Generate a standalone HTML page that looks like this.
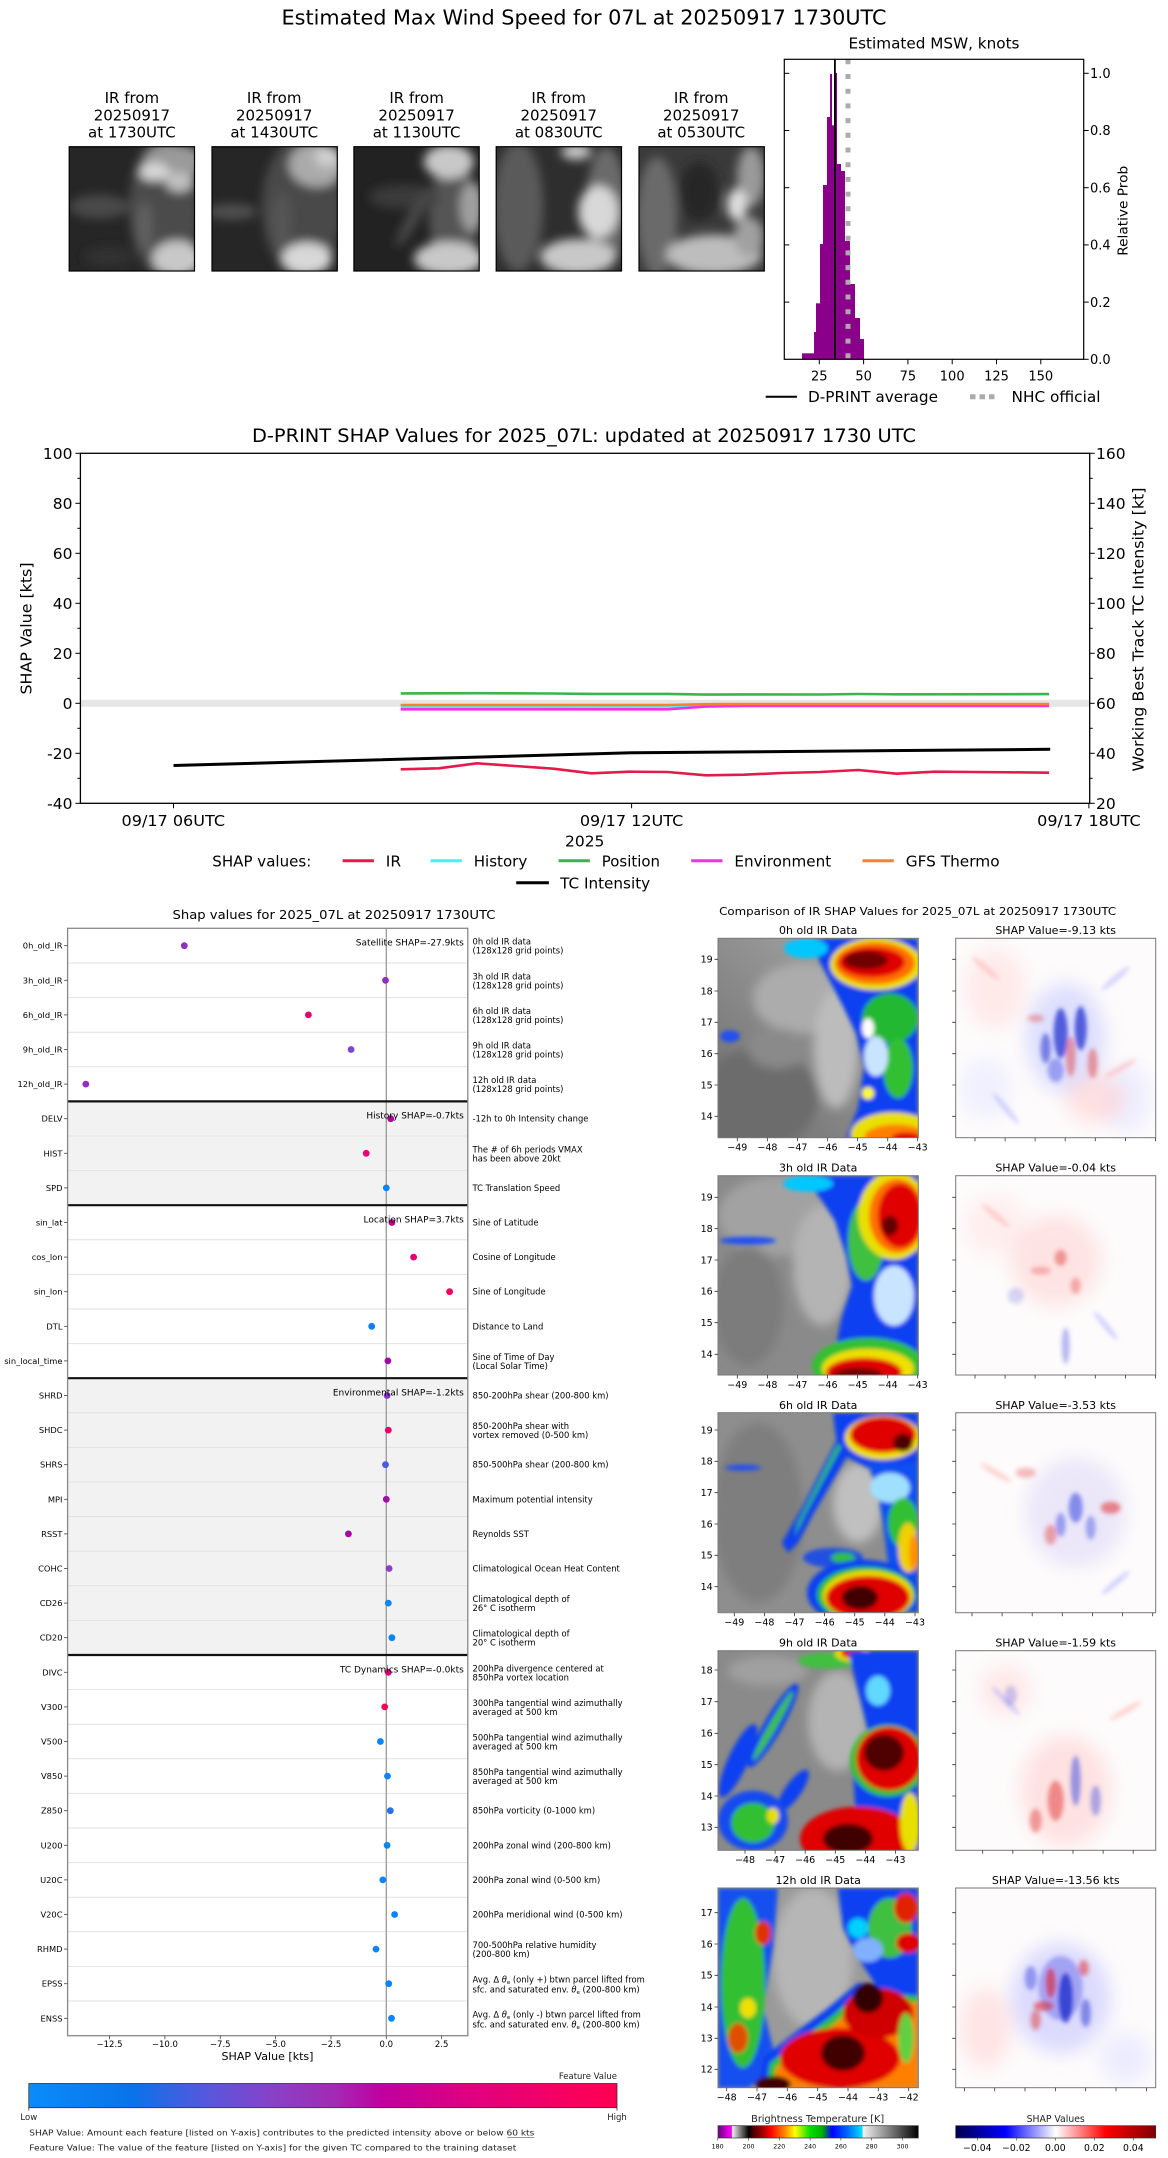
<!DOCTYPE html>
<html><head><meta charset="utf-8">
<style>
html,body{margin:0;padding:0;background:#fff;}
svg{display:block;}
text{font-family:"DejaVu Sans","Liberation Sans",sans-serif;fill:#000;}
.lt{fill:#222;}
</style></head><body>
<svg width="1168" height="2158" viewBox="0 0 1168 2158" xmlns="http://www.w3.org/2000/svg">
<defs>
<filter id="b5" x="-30%" y="-30%" width="160%" height="160%"><feGaussianBlur stdDeviation="5"/></filter>
<filter id="b8" x="-40%" y="-40%" width="180%" height="180%"><feGaussianBlur stdDeviation="9"/></filter>
<filter id="b3" x="-20%" y="-20%" width="140%" height="140%"><feGaussianBlur stdDeviation="3"/></filter>
<filter id="b2" x="-30%" y="-30%" width="160%" height="160%"><feGaussianBlur stdDeviation="2"/></filter>
<clipPath id="ct"><rect x="0" y="0" width="125.3" height="124.3"/></clipPath>
<clipPath id="cp"><rect x="0" y="0" width="200.3" height="199.6"/></clipPath>
<linearGradient id="gcb" x1="0" x2="1" y1="0" y2="0">
<stop offset="0" stop-color="#0a8cfa"/><stop offset="0.18" stop-color="#0a72ea"/><stop offset="0.23" stop-color="#2c66e4"/><stop offset="0.31" stop-color="#5a56db"/><stop offset="0.42" stop-color="#8a40c6"/><stop offset="0.52" stop-color="#a22ab4"/><stop offset="0.6" stop-color="#bf00a0"/><stop offset="0.75" stop-color="#df0080"/><stop offset="0.88" stop-color="#f20066"/><stop offset="1" stop-color="#ff0052"/>
</linearGradient>
<linearGradient id="gbt" x1="0" x2="1" y1="0" y2="0">
<stop offset="0" stop-color="#6a0080"/><stop offset="0.068" stop-color="#ff00ff"/><stop offset="0.072" stop-color="#ffffff"/><stop offset="0.08" stop-color="#d8d8d8"/><stop offset="0.154" stop-color="#000000"/><stop offset="0.17" stop-color="#400000"/><stop offset="0.23" stop-color="#b00000"/><stop offset="0.262" stop-color="#ff0000"/><stop offset="0.33" stop-color="#ff8000"/><stop offset="0.385" stop-color="#ffff00"/><stop offset="0.46" stop-color="#00e000"/><stop offset="0.52" stop-color="#00b000"/><stop offset="0.57" stop-color="#0000ff"/><stop offset="0.64" stop-color="#0060ff"/><stop offset="0.72" stop-color="#00e0ff"/><stop offset="0.723" stop-color="#f4f4f4"/><stop offset="1" stop-color="#000000"/>
</linearGradient>
<linearGradient id="gsei" x1="0" x2="1" y1="0" y2="0">
<stop offset="0" stop-color="#00004d"/><stop offset="0.25" stop-color="#0000ff"/><stop offset="0.5" stop-color="#ffffff"/><stop offset="0.75" stop-color="#ff0000"/><stop offset="1" stop-color="#800000"/>
</linearGradient>
<linearGradient id="gir" x1="1" y1="0" x2="0" y2="1">
<stop offset="0" stop-color="#b0b0b0"/><stop offset="1" stop-color="#6c6c6c"/>
</linearGradient>
</defs>
<rect width="1168" height="2158" fill="#fff"/>

<!-- ================= SECTION 1 ================= -->
<text x="584" y="24.5" font-size="20" text-anchor="middle" textLength="605" lengthAdjust="spacingAndGlyphs">Estimated Max Wind Speed for 07L at 20250917 1730UTC</text>

<g font-size="15" text-anchor="middle">
<text x="131.9" y="103">IR from</text><text x="131.9" y="120.3">20250917</text><text x="131.9" y="137.5">at 1730UTC</text>
<text x="274.2" y="103">IR from</text><text x="274.2" y="120.3">20250917</text><text x="274.2" y="137.5">at 1430UTC</text>
<text x="416.6" y="103">IR from</text><text x="416.6" y="120.3">20250917</text><text x="416.6" y="137.5">at 1130UTC</text>
<text x="558.7" y="103">IR from</text><text x="558.7" y="120.3">20250917</text><text x="558.7" y="137.5">at 0830UTC</text>
<text x="701.2" y="103">IR from</text><text x="701.2" y="120.3">20250917</text><text x="701.2" y="137.5">at 0530UTC</text>
</g>

<!-- thumbnails -->
<g transform="translate(69.2,146.7)"><g clip-path="url(#ct)"><rect width="126" height="125" fill="#262626"/><g filter="url(#b5)">
<ellipse cx="30" cy="60" rx="30" ry="12" fill="#4a4a4a"/><ellipse cx="95" cy="60" rx="35" ry="70" fill="#4c4c4c"/><ellipse cx="105" cy="15" rx="30" ry="18" fill="#9a9a9a"/><ellipse cx="85" cy="25" rx="15" ry="9" fill="#d8d8d8"/><ellipse cx="110" cy="35" rx="14" ry="10" fill="#c0c0c0"/><ellipse cx="108" cy="112" rx="25" ry="18" fill="#c8c8c8"/><ellipse cx="75" cy="80" rx="8" ry="25" fill="#606060"/><ellipse cx="40" cy="110" rx="25" ry="10" fill="#333"/></g></g>
<rect width="125.3" height="124.3" fill="none" stroke="#000" stroke-width="1.2"/></g>
<g transform="translate(212,146.7)"><g clip-path="url(#ct)"><rect width="126" height="125" fill="#262626"/><g filter="url(#b5)">
<ellipse cx="90" cy="60" rx="40" ry="70" fill="#4a4a4a"/><ellipse cx="105" cy="18" rx="28" ry="22" fill="#aaaaaa"/><ellipse cx="115" cy="10" rx="12" ry="10" fill="#d0d0d0"/><ellipse cx="95" cy="112" rx="25" ry="16" fill="#d8d8d8"/><ellipse cx="20" cy="65" rx="25" ry="8" fill="#505050"/><ellipse cx="70" cy="75" rx="10" ry="30" fill="#555555"/></g></g>
<rect width="125.3" height="124.3" fill="none" stroke="#000" stroke-width="1.2"/></g>
<g transform="translate(353.9,146.7)"><g clip-path="url(#ct)"><rect width="126" height="125" fill="#222222"/><g filter="url(#b5)">
<ellipse cx="100" cy="70" rx="25" ry="55" fill="#555555"/><ellipse cx="95" cy="15" rx="25" ry="17" fill="#c8c8c8"/><ellipse cx="118" cy="60" rx="12" ry="25" fill="#a0a0a0"/><ellipse cx="95" cy="112" rx="35" ry="17" fill="#c8c8c8"/><ellipse cx="50" cy="50" rx="35" ry="12" fill="#3a3a3a"/><ellipse cx="60" cy="70" rx="6" ry="35" fill="#4a4a4a" transform="rotate(30 60 70)"/></g></g>
<rect width="125.3" height="124.3" fill="none" stroke="#000" stroke-width="1.2"/></g>
<g transform="translate(496.2,146.7)"><g clip-path="url(#ct)"><rect width="126" height="125" fill="#2e2e2e"/><g filter="url(#b5)">
<ellipse cx="22" cy="60" rx="25" ry="65" fill="#5a5a5a"/><ellipse cx="110" cy="60" rx="20" ry="60" fill="#6a6a6a"/><ellipse cx="80" cy="5" rx="15" ry="8" fill="#c8c8c8"/><ellipse cx="102" cy="65" rx="20" ry="26" fill="#d8d8d8"/><ellipse cx="82" cy="110" rx="38" ry="18" fill="#c8c8c8"/></g></g>
<rect width="125.3" height="124.3" fill="none" stroke="#000" stroke-width="1.2"/></g>
<g transform="translate(639,146.7)"><g clip-path="url(#ct)"><rect width="126" height="125" fill="#3a3a3a"/><g filter="url(#b5)">
<ellipse cx="18" cy="70" rx="20" ry="60" fill="#6a6a6a"/><ellipse cx="60" cy="45" rx="20" ry="30" fill="#262626"/><ellipse cx="112" cy="30" rx="14" ry="30" fill="#9a9a9a"/><ellipse cx="98" cy="58" rx="10" ry="16" fill="#e0e0e0"/><ellipse cx="75" cy="108" rx="48" ry="20" fill="#bdbdbd"/><ellipse cx="110" cy="90" rx="15" ry="20" fill="#a0a0a0"/></g></g>
<rect width="125.3" height="124.3" fill="none" stroke="#000" stroke-width="1.2"/></g>

<!-- histogram -->
<text x="934" y="48.5" font-size="15" text-anchor="middle" textLength="171" lengthAdjust="spacingAndGlyphs">Estimated MSW, knots</text>
<g fill="#8b008b">
<rect x="802" y="353.3" width="12" height="6"/><rect x="814" y="332" width="2" height="27.3"/><rect x="816" y="303.3" width="4" height="56"/><rect x="820" y="244" width="3" height="115.3"/><rect x="823" y="185" width="4" height="174.3"/><rect x="827" y="117" width="3" height="242.3"/><rect x="830" y="74" width="2" height="285.3"/><rect x="832" y="125.3" width="2" height="234"/><rect x="834" y="73" width="3" height="286.3"/><rect x="837" y="164" width="4" height="195.3"/><rect x="841" y="171" width="4" height="188.3"/><rect x="845" y="241" width="5" height="118.3"/><rect x="850" y="284" width="5" height="75.3"/><rect x="855" y="318" width="5" height="41.3"/><rect x="860" y="339" width="4" height="20.3"/>
</g>
<line x1="848" y1="59.3" x2="848" y2="359.3" stroke="#ababab" stroke-width="5" stroke-dasharray="5 9.7"/>
<line x1="834.9" y1="59.3" x2="834.9" y2="359.3" stroke="#000" stroke-width="1.8"/>
<rect x="784.3" y="59.3" width="299.4" height="300" fill="none" stroke="#000" stroke-width="1.2"/>
<g stroke="#000" stroke-width="1">
<line x1="784.3" y1="73.3" x2="789.3" y2="73.3"/><line x1="784.3" y1="130.5" x2="789.3" y2="130.5"/><line x1="784.3" y1="187.7" x2="789.3" y2="187.7"/><line x1="784.3" y1="244.9" x2="789.3" y2="244.9"/><line x1="784.3" y1="302.1" x2="789.3" y2="302.1"/>
<line x1="1083.7" y1="73.3" x2="1088.7" y2="73.3"/><line x1="1083.7" y1="130.5" x2="1088.7" y2="130.5"/><line x1="1083.7" y1="187.7" x2="1088.7" y2="187.7"/><line x1="1083.7" y1="244.9" x2="1088.7" y2="244.9"/><line x1="1083.7" y1="302.1" x2="1088.7" y2="302.1"/><line x1="1083.7" y1="359.3" x2="1088.7" y2="359.3"/>
<line x1="819.3" y1="359.3" x2="819.3" y2="364.3"/><line x1="863.6" y1="359.3" x2="863.6" y2="364.3"/><line x1="907.9" y1="359.3" x2="907.9" y2="364.3"/><line x1="952.2" y1="359.3" x2="952.2" y2="364.3"/><line x1="996.5" y1="359.3" x2="996.5" y2="364.3"/><line x1="1040.8" y1="359.3" x2="1040.8" y2="364.3"/>
</g>
<g font-size="13" text-anchor="middle">
<text x="819.3" y="380.5">25</text><text x="863.6" y="380.5">50</text><text x="907.9" y="380.5">75</text><text x="952.2" y="380.5">100</text><text x="996.5" y="380.5">125</text><text x="1040.8" y="380.5">150</text>
</g>
<g font-size="13">
<text x="1090" y="78">1.0</text><text x="1090" y="135.2">0.8</text><text x="1090" y="192.4">0.6</text><text x="1090" y="249.6">0.4</text><text x="1090" y="306.8">0.2</text><text x="1090" y="364">0.0</text>
</g>
<text transform="translate(1127.5,210.8) rotate(-90)" font-size="13.5" text-anchor="middle" textLength="90" lengthAdjust="spacingAndGlyphs">Relative Prob</text>
<line x1="765.7" y1="396.7" x2="797" y2="396.7" stroke="#000" stroke-width="2"/>
<text x="808" y="402" font-size="15" textLength="130" lengthAdjust="spacingAndGlyphs">D-PRINT average</text>
<line x1="970" y1="396.7" x2="998" y2="396.7" stroke="#ababab" stroke-width="5" stroke-dasharray="5.5 4"/>
<text x="1011.5" y="402" font-size="15" textLength="89" lengthAdjust="spacingAndGlyphs">NHC official</text>

<!-- ================= SECTION 2 ================= -->
<text x="584" y="442" font-size="19" text-anchor="middle" textLength="664" lengthAdjust="spacingAndGlyphs">D-PRINT SHAP Values for 2025_07L: updated at 20250917 1730 UTC</text>
<rect x="80.4" y="699.8" width="1009.3" height="7" fill="#e6e6e6"/>
<g fill="none" stroke-linejoin="round" stroke-width="2.6">
<polyline stroke="#e6194b" points="400.7,769.3 438.8,768.3 477,763.3 515.1,766 553.3,768.7 591.4,773.3 629.5,771.7 667.7,772 705.8,775.3 744,774.7 782.1,773 820.2,772 858.4,770 896.5,773.7 934.7,771.7 972.8,772 1010.9,772.3 1049.1,772.7"/>
<polyline stroke="#46f0f0" points="400.7,706.7 667.7,706.6 705.8,705.6 744,705.3 1049.1,705.1"/>
<polyline stroke="#3cb44b" points="400.7,693.4 477,693.2 553.3,693.5 591.4,693.9 667.7,693.9 705.8,694.6 744,694.4 820.2,694.5 858.4,694 896.5,694.3 1049.1,694.1"/>
<polyline stroke="#f032e6" points="400.7,709.3 667.7,709.3 705.8,706.6 744,706 1049.1,706"/>
<polyline stroke="#f58231" points="400.7,705 667.7,705 705.8,704.2 744,704 1049.1,704"/>
</g>
<polyline fill="none" stroke="#000" stroke-width="3" points="173.5,765.5 631.6,752.8 1050.2,749.3"/>
<rect x="80.4" y="453.3" width="1009.3" height="350" fill="none" stroke="#000" stroke-width="1.3"/>
<g stroke="#000" stroke-width="1">
<line x1="75.4" y1="453.3" x2="80.4" y2="453.3"/><line x1="75.4" y1="503.3" x2="80.4" y2="503.3"/><line x1="75.4" y1="553.3" x2="80.4" y2="553.3"/><line x1="75.4" y1="603.3" x2="80.4" y2="603.3"/><line x1="75.4" y1="653.3" x2="80.4" y2="653.3"/><line x1="75.4" y1="703.3" x2="80.4" y2="703.3"/><line x1="75.4" y1="753.3" x2="80.4" y2="753.3"/><line x1="75.4" y1="803.3" x2="80.4" y2="803.3"/>
<line x1="77.4" y1="478.3" x2="80.4" y2="478.3"/><line x1="77.4" y1="528.3" x2="80.4" y2="528.3"/><line x1="77.4" y1="578.3" x2="80.4" y2="578.3"/><line x1="77.4" y1="628.3" x2="80.4" y2="628.3"/><line x1="77.4" y1="678.3" x2="80.4" y2="678.3"/><line x1="77.4" y1="728.3" x2="80.4" y2="728.3"/><line x1="77.4" y1="778.3" x2="80.4" y2="778.3"/>
<line x1="1089.7" y1="453.3" x2="1094.7" y2="453.3"/><line x1="1089.7" y1="503.3" x2="1094.7" y2="503.3"/><line x1="1089.7" y1="553.3" x2="1094.7" y2="553.3"/><line x1="1089.7" y1="603.3" x2="1094.7" y2="603.3"/><line x1="1089.7" y1="653.3" x2="1094.7" y2="653.3"/><line x1="1089.7" y1="703.3" x2="1094.7" y2="703.3"/><line x1="1089.7" y1="753.3" x2="1094.7" y2="753.3"/><line x1="1089.7" y1="803.3" x2="1094.7" y2="803.3"/>
<line x1="1089.7" y1="478.3" x2="1092.7" y2="478.3"/><line x1="1089.7" y1="528.3" x2="1092.7" y2="528.3"/><line x1="1089.7" y1="578.3" x2="1092.7" y2="578.3"/><line x1="1089.7" y1="628.3" x2="1092.7" y2="628.3"/><line x1="1089.7" y1="678.3" x2="1092.7" y2="678.3"/><line x1="1089.7" y1="728.3" x2="1092.7" y2="728.3"/><line x1="1089.7" y1="778.3" x2="1092.7" y2="778.3"/>
<line x1="173.5" y1="803.3" x2="173.5" y2="808.3"/><line x1="631.6" y1="803.3" x2="631.6" y2="808.3"/><line x1="1088.9" y1="803.3" x2="1088.9" y2="808.3"/>
</g>
<g font-size="15.5" text-anchor="end">
<text x="72.5" y="459">100</text><text x="72.5" y="509">80</text><text x="72.5" y="559">60</text><text x="72.5" y="609">40</text><text x="72.5" y="659">20</text><text x="72.5" y="709">0</text><text x="72.5" y="759">-20</text><text x="72.5" y="809">-40</text>
</g>
<g font-size="15.5">
<text x="1096" y="459">160</text><text x="1096" y="509">140</text><text x="1096" y="559">120</text><text x="1096" y="609">100</text><text x="1096" y="659">80</text><text x="1096" y="709">60</text><text x="1096" y="759">40</text><text x="1096" y="809">20</text>
</g>
<g font-size="15.5" text-anchor="middle">
<text x="173.3" y="826" textLength="103.5" lengthAdjust="spacingAndGlyphs">09/17 06UTC</text>
<text x="631.6" y="826" textLength="103.5" lengthAdjust="spacingAndGlyphs">09/17 12UTC</text>
<text x="1088.9" y="826" textLength="103.5" lengthAdjust="spacingAndGlyphs">09/17 18UTC</text>
<text x="584.7" y="846.5">2025</text>
</g>
<text transform="translate(31.5,628.5) rotate(-90)" font-size="15" text-anchor="middle" textLength="132" lengthAdjust="spacingAndGlyphs">SHAP Value [kts]</text>
<text transform="translate(1143.5,629.5) rotate(-90)" font-size="15.5" text-anchor="middle" textLength="284" lengthAdjust="spacingAndGlyphs">Working Best Track TC Intensity [kt]</text>
<g font-size="15.5">
<text x="212.3" y="866.3" textLength="99" lengthAdjust="spacingAndGlyphs">SHAP values:</text>
<line x1="342.6" y1="860.7" x2="373.9" y2="860.7" stroke="#e6194b" stroke-width="3"/><text x="385.8" y="866.3">IR</text>
<line x1="430.5" y1="860.7" x2="461.8" y2="860.7" stroke="#46f0f0" stroke-width="3"/><text x="473.7" y="866.3" textLength="53.6" lengthAdjust="spacingAndGlyphs">History</text>
<line x1="558.6" y1="860.7" x2="589.9" y2="860.7" stroke="#3cb44b" stroke-width="3"/><text x="601.8" y="866.3" textLength="58.2" lengthAdjust="spacingAndGlyphs">Position</text>
<line x1="691.2" y1="860.7" x2="722.5" y2="860.7" stroke="#f032e6" stroke-width="3"/><text x="734.4" y="866.3" textLength="96.8" lengthAdjust="spacingAndGlyphs">Environment</text>
<line x1="862.5" y1="860.7" x2="893.8" y2="860.7" stroke="#f58231" stroke-width="3"/><text x="905.7" y="866.3" textLength="93.9" lengthAdjust="spacingAndGlyphs">GFS Thermo</text>
<line x1="516.2" y1="882.7" x2="548.9" y2="882.7" stroke="#000" stroke-width="3"/><text x="560.1" y="888.3" textLength="90.1" lengthAdjust="spacingAndGlyphs">TC Intensity</text>
</g>

<!-- ================= SECTION 3: left SHAP panel ================= -->
<text x="334" y="919" font-size="12" text-anchor="middle" textLength="323" lengthAdjust="spacingAndGlyphs">Shap values for 2025_07L at 20250917 1730UTC</text>
<rect x="67.6" y="1101.4" width="400.2" height="103.8" fill="#f2f2f2"/>
<rect x="67.6" y="1378.2" width="400.2" height="276.8" fill="#f2f2f2"/>
<g stroke="#e2e2e2" stroke-width="1">
<line x1="67.6" x2="467.8" y1="963" y2="963"/><line x1="67.6" x2="467.8" y1="997.6" y2="997.6"/><line x1="67.6" x2="467.8" y1="1032.2" y2="1032.2"/><line x1="67.6" x2="467.8" y1="1066.8" y2="1066.8"/><line x1="67.6" x2="467.8" y1="1136" y2="1136"/><line x1="67.6" x2="467.8" y1="1170.6" y2="1170.6"/><line x1="67.6" x2="467.8" y1="1239.8" y2="1239.8"/><line x1="67.6" x2="467.8" y1="1274.4" y2="1274.4"/><line x1="67.6" x2="467.8" y1="1309" y2="1309"/><line x1="67.6" x2="467.8" y1="1343.6" y2="1343.6"/><line x1="67.6" x2="467.8" y1="1412.8" y2="1412.8"/><line x1="67.6" x2="467.8" y1="1447.4" y2="1447.4"/><line x1="67.6" x2="467.8" y1="1482" y2="1482"/><line x1="67.6" x2="467.8" y1="1516.6" y2="1516.6"/><line x1="67.6" x2="467.8" y1="1551.2" y2="1551.2"/><line x1="67.6" x2="467.8" y1="1585.8" y2="1585.8"/><line x1="67.6" x2="467.8" y1="1620.4" y2="1620.4"/><line x1="67.6" x2="467.8" y1="1689.6" y2="1689.6"/><line x1="67.6" x2="467.8" y1="1724.2" y2="1724.2"/><line x1="67.6" x2="467.8" y1="1758.8" y2="1758.8"/><line x1="67.6" x2="467.8" y1="1793.4" y2="1793.4"/><line x1="67.6" x2="467.8" y1="1828" y2="1828"/><line x1="67.6" x2="467.8" y1="1862.6" y2="1862.6"/><line x1="67.6" x2="467.8" y1="1897.2" y2="1897.2"/><line x1="67.6" x2="467.8" y1="1931.8" y2="1931.8"/><line x1="67.6" x2="467.8" y1="1966.4" y2="1966.4"/><line x1="67.6" x2="467.8" y1="2001" y2="2001"/>
</g>
<line x1="386.3" y1="928.3" x2="386.3" y2="2035.7" stroke="#999" stroke-width="1.3"/>
<g stroke="#111" stroke-width="2.2">
<line x1="67.6" x2="467.8" y1="1101.4" y2="1101.4"/><line x1="67.6" x2="467.8" y1="1205.2" y2="1205.2"/><line x1="67.6" x2="467.8" y1="1378.2" y2="1378.2"/><line x1="67.6" x2="467.8" y1="1655" y2="1655"/>
</g>
<rect x="67.6" y="928.3" width="400.2" height="1107.4" fill="none" stroke="#888" stroke-width="1.3"/>
<!-- dots -->
<g>
<circle cx="184.3" cy="945.7" r="3.4" fill="#8e2fc4"/>
<circle cx="385.5" cy="980.3" r="3.4" fill="#9030c0"/>
<circle cx="308.4" cy="1014.9" r="3.4" fill="#e8006e"/>
<circle cx="351.1" cy="1049.5" r="3.4" fill="#7a45d2"/>
<circle cx="85.8" cy="1084.1" r="3.4" fill="#9030c0"/>
<circle cx="390.7" cy="1118.7" r="3.4" fill="#b0089f"/>
<circle cx="366.2" cy="1153.3" r="3.4" fill="#ea0072"/>
<circle cx="386.3" cy="1187.9" r="3.4" fill="#0a84f8"/>
<circle cx="391.9" cy="1222.5" r="3.4" fill="#c0008e"/>
<circle cx="413.6" cy="1257.1" r="3.4" fill="#de0079"/>
<circle cx="449.6" cy="1291.7" r="3.4" fill="#f2005f"/>
<circle cx="371.7" cy="1326.3" r="3.4" fill="#0a80f8"/>
<circle cx="387.9" cy="1360.9" r="3.4" fill="#a009a8"/>
<circle cx="387.1" cy="1395.5" r="3.4" fill="#8434cc"/>
<circle cx="388.3" cy="1430.1" r="3.4" fill="#ee006c"/>
<circle cx="385.5" cy="1464.7" r="3.4" fill="#4a5ce0"/>
<circle cx="386.3" cy="1499.3" r="3.4" fill="#a010a8"/>
<circle cx="348.4" cy="1533.9" r="3.4" fill="#a3069f"/>
<circle cx="389.1" cy="1568.5" r="3.4" fill="#8a3ecc"/>
<circle cx="388.3" cy="1603.1" r="3.4" fill="#0a84f8"/>
<circle cx="391.9" cy="1637.7" r="3.4" fill="#0a84f8"/>
<circle cx="388.3" cy="1672.3" r="3.4" fill="#e0007a"/>
<circle cx="384.7" cy="1706.9" r="3.4" fill="#ff0054"/>
<circle cx="380.4" cy="1741.5" r="3.4" fill="#0a84f8"/>
<circle cx="387.5" cy="1776.1" r="3.4" fill="#0a84f8"/>
<circle cx="390.3" cy="1810.7" r="3.4" fill="#2870ec"/>
<circle cx="387.1" cy="1845.3" r="3.4" fill="#0a84f8"/>
<circle cx="382.8" cy="1879.9" r="3.4" fill="#0a84f8"/>
<circle cx="394.6" cy="1914.5" r="3.4" fill="#0a84f8"/>
<circle cx="376" cy="1949.1" r="3.4" fill="#0a84f8"/>
<circle cx="388.7" cy="1983.7" r="3.4" fill="#0a84f8"/>
<circle cx="391.5" cy="2018.3" r="3.4" fill="#0a84f8"/>
</g>
<!-- group annotations -->
<g font-size="9" text-anchor="end" class="lt">
<text x="463.8" y="945.7">Satellite SHAP=-27.9kts</text>
<text x="463.8" y="1118.7">History SHAP=-0.7kts</text>
<text x="463.8" y="1222.5">Location SHAP=3.7kts</text>
<text x="463.8" y="1395.5">Environmental SHAP=-1.2kts</text>
<text x="463.8" y="1672.3">TC Dynamics SHAP=-0.0kts</text>
</g>
<!-- y tick marks -->
<g stroke="#444" stroke-width="0.8">
<line x1="64" x2="67.6" y1="945.7" y2="945.7"/><line x1="64" x2="67.6" y1="980.3" y2="980.3"/><line x1="64" x2="67.6" y1="1014.9" y2="1014.9"/><line x1="64" x2="67.6" y1="1049.5" y2="1049.5"/><line x1="64" x2="67.6" y1="1084.1" y2="1084.1"/><line x1="64" x2="67.6" y1="1118.7" y2="1118.7"/><line x1="64" x2="67.6" y1="1153.3" y2="1153.3"/><line x1="64" x2="67.6" y1="1187.9" y2="1187.9"/><line x1="64" x2="67.6" y1="1222.5" y2="1222.5"/><line x1="64" x2="67.6" y1="1257.1" y2="1257.1"/><line x1="64" x2="67.6" y1="1291.7" y2="1291.7"/><line x1="64" x2="67.6" y1="1326.3" y2="1326.3"/><line x1="64" x2="67.6" y1="1360.9" y2="1360.9"/><line x1="64" x2="67.6" y1="1395.5" y2="1395.5"/><line x1="64" x2="67.6" y1="1430.1" y2="1430.1"/><line x1="64" x2="67.6" y1="1464.7" y2="1464.7"/><line x1="64" x2="67.6" y1="1499.3" y2="1499.3"/><line x1="64" x2="67.6" y1="1533.9" y2="1533.9"/><line x1="64" x2="67.6" y1="1568.5" y2="1568.5"/><line x1="64" x2="67.6" y1="1603.1" y2="1603.1"/><line x1="64" x2="67.6" y1="1637.7" y2="1637.7"/><line x1="64" x2="67.6" y1="1672.3" y2="1672.3"/><line x1="64" x2="67.6" y1="1706.9" y2="1706.9"/><line x1="64" x2="67.6" y1="1741.5" y2="1741.5"/><line x1="64" x2="67.6" y1="1776.1" y2="1776.1"/><line x1="64" x2="67.6" y1="1810.7" y2="1810.7"/><line x1="64" x2="67.6" y1="1845.3" y2="1845.3"/><line x1="64" x2="67.6" y1="1879.9" y2="1879.9"/><line x1="64" x2="67.6" y1="1914.5" y2="1914.5"/><line x1="64" x2="67.6" y1="1949.1" y2="1949.1"/><line x1="64" x2="67.6" y1="1983.7" y2="1983.7"/><line x1="64" x2="67.6" y1="2018.3" y2="2018.3"/>
</g>
<g font-size="8.3" text-anchor="end" class="lt">
<text x="62.5" y="948.7">0h_old_IR</text><text x="62.5" y="983.3">3h_old_IR</text><text x="62.5" y="1017.9">6h_old_IR</text><text x="62.5" y="1052.5">9h_old_IR</text><text x="62.5" y="1087.1">12h_old_IR</text>
<text x="62.5" y="1121.7">DELV</text><text x="62.5" y="1156.3">HIST</text><text x="62.5" y="1190.9">SPD</text>
<text x="62.5" y="1225.5">sin_lat</text><text x="62.5" y="1260.1">cos_lon</text><text x="62.5" y="1294.7">sin_lon</text><text x="62.5" y="1329.3">DTL</text><text x="62.5" y="1363.9">sin_local_time</text>
<text x="62.5" y="1398.5">SHRD</text><text x="62.5" y="1433.1">SHDC</text><text x="62.5" y="1467.7">SHRS</text><text x="62.5" y="1502.3">MPI</text><text x="62.5" y="1536.9">RSST</text><text x="62.5" y="1571.5">COHC</text><text x="62.5" y="1606.1">CD26</text><text x="62.5" y="1640.7">CD20</text>
<text x="62.5" y="1675.3">DIVC</text><text x="62.5" y="1709.9">V300</text><text x="62.5" y="1744.5">V500</text><text x="62.5" y="1779.1">V850</text><text x="62.5" y="1813.7">Z850</text><text x="62.5" y="1848.3">U200</text><text x="62.5" y="1882.9">U20C</text><text x="62.5" y="1917.5">V20C</text><text x="62.5" y="1952.1">RHMD</text><text x="62.5" y="1986.7">EPSS</text><text x="62.5" y="2021.3">ENSS</text>
</g>
<!-- right descriptions -->
<g font-size="8.4" class="lt">
<text x="472.5" y="944.7">0h old IR data</text><text x="472.5" y="953.7">(128x128 grid points)</text>
<text x="472.5" y="979.3">3h old IR data</text><text x="472.5" y="988.3">(128x128 grid points)</text>
<text x="472.5" y="1013.9">6h old IR data</text><text x="472.5" y="1022.9">(128x128 grid points)</text>
<text x="472.5" y="1048.5">9h old IR data</text><text x="472.5" y="1057.5">(128x128 grid points)</text>
<text x="472.5" y="1083.1">12h old IR data</text><text x="472.5" y="1092.1">(128x128 grid points)</text>
<text x="472.5" y="1121.7">-12h to 0h Intensity change</text>
<text x="472.5" y="1152.3">The # of 6h periods VMAX</text><text x="472.5" y="1161.3">has been above 20kt</text>
<text x="472.5" y="1190.9">TC Translation Speed</text>
<text x="472.5" y="1225.5">Sine of Latitude</text>
<text x="472.5" y="1260.1">Cosine of Longitude</text>
<text x="472.5" y="1294.7">Sine of Longitude</text>
<text x="472.5" y="1329.3">Distance to Land</text>
<text x="472.5" y="1359.9">Sine of Time of Day</text><text x="472.5" y="1368.9">(Local Solar Time)</text>
<text x="472.5" y="1398.5">850-200hPa shear (200-800 km)</text>
<text x="472.5" y="1429.1">850-200hPa shear with</text><text x="472.5" y="1438.1">vortex removed (0-500 km)</text>
<text x="472.5" y="1467.7">850-500hPa shear (200-800 km)</text>
<text x="472.5" y="1502.3">Maximum potential intensity</text>
<text x="472.5" y="1536.9">Reynolds SST</text>
<text x="472.5" y="1571.5">Climatological Ocean Heat Content</text>
<text x="472.5" y="1602.1">Climatological depth of</text><text x="472.5" y="1611.1">26° C isotherm</text>
<text x="472.5" y="1636.7">Climatological depth of</text><text x="472.5" y="1645.7">20° C isotherm</text>
<text x="472.5" y="1671.3">200hPa divergence centered at</text><text x="472.5" y="1680.3">850hPa vortex location</text>
<text x="472.5" y="1705.9">300hPa tangential wind azimuthally</text><text x="472.5" y="1714.9">averaged at 500 km</text>
<text x="472.5" y="1740.5">500hPa tangential wind azimuthally</text><text x="472.5" y="1749.5">averaged at 500 km</text>
<text x="472.5" y="1775.1">850hPa tangential wind azimuthally</text><text x="472.5" y="1784.1">averaged at 500 km</text>
<text x="472.5" y="1813.7">850hPa vorticity (0-1000 km)</text>
<text x="472.5" y="1848.3">200hPa zonal wind (200-800 km)</text>
<text x="472.5" y="1882.9">200hPa zonal wind (0-500 km)</text>
<text x="472.5" y="1917.5">200hPa meridional wind (0-500 km)</text>
<text x="472.5" y="1948.1">700-500hPa relative humidity</text><text x="472.5" y="1957.1">(200-800 km)</text>
<text x="472.5" y="1982.7">Avg. Δ <tspan font-style="italic">θ</tspan><tspan font-size="5.5" dy="1.5">e</tspan><tspan dy="-1.5"> (only +) btwn parcel lifted from</tspan></text>
<text x="472.5" y="1992.7">sfc. and saturated env. <tspan font-style="italic">θ</tspan><tspan font-size="5.5" dy="1.5">e</tspan><tspan dy="-1.5"> (200-800 km)</tspan></text>
<text x="472.5" y="2017.3">Avg. Δ <tspan font-style="italic">θ</tspan><tspan font-size="5.5" dy="1.5">e</tspan><tspan dy="-1.5"> (only -) btwn parcel lifted from</tspan></text>
<text x="472.5" y="2027.3">sfc. and saturated env. <tspan font-style="italic">θ</tspan><tspan font-size="5.5" dy="1.5">e</tspan><tspan dy="-1.5"> (200-800 km)</tspan></text>
</g>
<!-- x axis -->
<g stroke="#444" stroke-width="0.8">
<line x1="109.55" x2="109.55" y1="2035.7" y2="2039.2"/><line x1="164.9" x2="164.9" y1="2035.7" y2="2039.2"/><line x1="220.25" x2="220.25" y1="2035.7" y2="2039.2"/><line x1="275.6" x2="275.6" y1="2035.7" y2="2039.2"/><line x1="330.95" x2="330.95" y1="2035.7" y2="2039.2"/><line x1="386.3" x2="386.3" y1="2035.7" y2="2039.2"/><line x1="441.65" x2="441.65" y1="2035.7" y2="2039.2"/>
</g>
<g font-size="8.5" text-anchor="middle" class="lt">
<text x="109.55" y="2047">−12.5</text><text x="164.9" y="2047">−10.0</text><text x="220.25" y="2047">−7.5</text><text x="275.6" y="2047">−5.0</text><text x="330.95" y="2047">−2.5</text><text x="386.3" y="2047">0.0</text><text x="441.65" y="2047">2.5</text>
</g>
<text x="267.5" y="2060" font-size="10.5" text-anchor="middle" textLength="92" lengthAdjust="spacingAndGlyphs">SHAP Value [kts]</text>
<!-- colorbar -->
<text x="617" y="2079" font-size="8.5" text-anchor="end" class="lt">Feature Value</text>
<rect x="28.8" y="2083.5" width="588.2" height="24.2" fill="url(#gcb)" stroke="#333" stroke-width="0.8"/>
<line x1="28.8" x2="28.8" y1="2107.7" y2="2110.5" stroke="#333" stroke-width="0.8"/>
<line x1="617" x2="617" y1="2107.7" y2="2110.5" stroke="#333" stroke-width="0.8"/>
<text x="28.8" y="2120" font-size="8.5" text-anchor="middle" class="lt">Low</text>
<text x="617" y="2120" font-size="8.5" text-anchor="middle" class="lt">High</text>
<text x="29.3" y="2135.5" font-size="8.3" textLength="505" lengthAdjust="spacingAndGlyphs" class="lt">SHAP Value: Amount each feature [listed on Y-axis] contributes to the predicted intensity above or below 60 kts</text>
<line x1="507.5" x2="534.3" y1="2137.5" y2="2137.5" stroke="#333" stroke-width="0.6"/>
<text x="29.3" y="2150.5" font-size="8.3" textLength="487" lengthAdjust="spacingAndGlyphs" class="lt">Feature Value: The value of the feature [listed on Y-axis] for the given TC compared to the training dataset</text>

<!-- ================= SECTION 4: right IR panels ================= -->
<text x="917.7" y="915" font-size="11" text-anchor="middle" textLength="397" lengthAdjust="spacingAndGlyphs">Comparison of IR SHAP Values for 2025_07L at 20250917 1730UTC</text>
<g font-size="11" text-anchor="middle">
<text x="818.2" y="934">0h old IR Data</text><text x="1055.7" y="934">SHAP Value=-9.13 kts</text>
<text x="818.2" y="1171.5">3h old IR Data</text><text x="1055.7" y="1171.5">SHAP Value=-0.04 kts</text>
<text x="818.2" y="1409">6h old IR Data</text><text x="1055.7" y="1409">SHAP Value=-3.53 kts</text>
<text x="818.2" y="1646.5">9h old IR Data</text><text x="1055.7" y="1646.5">SHAP Value=-1.59 kts</text>
<text x="818.2" y="1884">12h old IR Data</text><text x="1055.7" y="1884">SHAP Value=-13.56 kts</text>
</g>

<!-- IR panel 0 -->
<g transform="translate(718,938.3)"><g clip-path="url(#cp)">
<rect width="201" height="200" fill="url(#gir)"/>
<g filter="url(#b5)">
<ellipse cx="85" cy="60" rx="50" ry="35" fill="#acacac"/><ellipse cx="118" cy="110" rx="22" ry="60" fill="#bcbcbc"/><ellipse cx="40" cy="160" rx="60" ry="50" fill="#6c6c6c"/><ellipse cx="60" cy="110" rx="30" ry="20" fill="#8a8a8a"/>
</g>
<g filter="url(#b2)">
<ellipse cx="12" cy="98" rx="10" ry="6" fill="#2050f0"/>
<polygon points="95,0 200,0 200,200 128,200 140,170 146,130 138,95 126,70 113,45 100,20" fill="#1040f0"/>
<ellipse cx="88" cy="10" rx="22" ry="10" fill="#00c8ff"/>
<ellipse cx="172" cy="80" rx="28" ry="25" fill="#20b830"/><ellipse cx="180" cy="130" rx="15" ry="30" fill="#30c030"/>
<ellipse cx="158" cy="118" rx="12" ry="20" fill="#c8e4ff"/><ellipse cx="150" cy="90" rx="6" ry="10" fill="#ffffff"/>
<ellipse cx="158" cy="26" rx="46" ry="26" fill="#e8e000"/><ellipse cx="157" cy="25" rx="40" ry="21" fill="#ff7000"/><ellipse cx="154" cy="24" rx="33" ry="15" fill="#e00000"/><ellipse cx="148" cy="22" rx="22" ry="9" fill="#700000"/>
<ellipse cx="175" cy="196" rx="42" ry="22" fill="#e8e000"/><ellipse cx="178" cy="199" rx="32" ry="13" fill="#ff8000"/><ellipse cx="188" cy="200" rx="15" ry="6" fill="#e00000"/>
<ellipse cx="150" cy="155" rx="6" ry="6" fill="#ffff00"/>
</g></g>
<rect width="200.3" height="199.4" fill="none" stroke="#777" stroke-width="1"/></g>

<!-- IR panel 1 -->
<g transform="translate(718,1175.7)"><g clip-path="url(#cp)">
<rect width="201" height="200" fill="#8a8a8a"/>
<g filter="url(#b5)">
<ellipse cx="60" cy="40" rx="60" ry="40" fill="#a2a2a2"/><ellipse cx="105" cy="90" rx="30" ry="60" fill="#b4b4b4"/><ellipse cx="30" cy="130" rx="35" ry="60" fill="#7c7c7c"/>
</g>
<g filter="url(#b2)">
<ellipse cx="30" cy="65" rx="28" ry="4" fill="#2050f0"/>
<polygon points="85,0 200,0 200,200 108,200 118,170 124,140 134,110 128,80 117,45 104,25" fill="#1040f0"/>
<ellipse cx="90" cy="8" rx="25" ry="8" fill="#00c8ff"/>
<ellipse cx="148" cy="65" rx="18" ry="40" fill="#40c040"/>
<ellipse cx="176" cy="120" rx="20" ry="30" fill="#c8e4ff"/>
<ellipse cx="176" cy="40" rx="36" ry="44" fill="#e8e000"/><ellipse cx="179" cy="40" rx="28" ry="37" fill="#ff7000"/><ellipse cx="182" cy="40" rx="22" ry="32" fill="#e00000"/><ellipse cx="172" cy="50" rx="8" ry="10" fill="#600000"/>
<ellipse cx="150" cy="190" rx="56" ry="28" fill="#30c030"/><ellipse cx="150" cy="193" rx="46" ry="20" fill="#f0e000"/><ellipse cx="146" cy="197" rx="38" ry="15" fill="#e00000"/><ellipse cx="140" cy="200" rx="25" ry="8" fill="#700000"/>
</g></g>
<rect width="200.3" height="199.3" fill="none" stroke="#777" stroke-width="1"/></g>

<!-- IR panel 2 -->
<g transform="translate(718,1412.7)"><g clip-path="url(#cp)">
<rect width="201" height="200" fill="#8e8e8e"/>
<g filter="url(#b5)">
<ellipse cx="40" cy="100" rx="45" ry="90" fill="#7e7e7e"/><ellipse cx="140" cy="90" rx="25" ry="40" fill="#c0c0c0"/>
</g>
<g filter="url(#b2)">
<ellipse cx="25" cy="55" rx="18" ry="3" fill="#2050f0"/>
<polygon points="130,15 140,25 96,100 80,130 70,140 64,130 84,95 120,25" fill="#1040f0"/>
<polygon points="128,25 88,100 76,125 80,110 118,35" fill="#30c030"/>
<polygon points="115,0 200,0 200,70 160,60 130,45 118,25" fill="#1040f0"/>
<polygon points="150,50 200,50 200,200 160,200 170,150 165,110 160,80" fill="#1050f0"/>
<ellipse cx="172" cy="75" rx="20" ry="15" fill="#a0e0ff"/><ellipse cx="185" cy="110" rx="15" ry="25" fill="#30c030"/><ellipse cx="190" cy="135" rx="10" ry="25" fill="#f0d000"/><ellipse cx="196" cy="140" rx="5" ry="18" fill="#ff9000"/>
<ellipse cx="165" cy="25" rx="38" ry="22" fill="#f0e000"/><ellipse cx="165" cy="22" rx="33" ry="18" fill="#e00000"/><ellipse cx="185" cy="30" rx="10" ry="9" fill="#500000"/>
<ellipse cx="115" cy="145" rx="30" ry="10" fill="#2050e0"/><ellipse cx="125" cy="145" rx="12" ry="5" fill="#30c030"/>
<ellipse cx="145" cy="180" rx="56" ry="33" fill="#1040f0"/><ellipse cx="148" cy="182" rx="49" ry="28" fill="#20c020"/><ellipse cx="150" cy="183" rx="45" ry="25" fill="#f0e000"/><ellipse cx="150" cy="185" rx="42" ry="22" fill="#e00000"/><ellipse cx="142" cy="185" rx="18" ry="12" fill="#400000"/>
</g></g>
<rect width="200.3" height="200" fill="none" stroke="#777" stroke-width="1"/></g>

<!-- IR panel 3 -->
<g transform="translate(718,1650.7)"><g clip-path="url(#cp)">
<rect width="201" height="200" fill="#8a8a8a"/>
<g filter="url(#b5)">
<ellipse cx="120" cy="70" rx="30" ry="50" fill="#b4b4b4"/><ellipse cx="50" cy="20" rx="40" ry="15" fill="#a0a0a0"/>
</g>
<g filter="url(#b2)">
<ellipse cx="55" cy="75" rx="48" ry="9" fill="#1040f0" transform="rotate(-60 55 75)"/>
<ellipse cx="55" cy="75" rx="40" ry="4" fill="#40c040" transform="rotate(-60 55 75)"/>
<ellipse cx="20" cy="110" rx="40" ry="10" fill="#1040f0" transform="rotate(-65 20 110)"/>
<ellipse cx="75" cy="140" rx="25" ry="8" fill="#1040f0" transform="rotate(-55 75 140)"/>
<ellipse cx="35" cy="170" rx="35" ry="30" fill="#1848f0"/><ellipse cx="35" cy="172" rx="22" ry="20" fill="#30c030"/><ellipse cx="55" cy="165" rx="6" ry="8" fill="#e8e000"/>
<ellipse cx="110" cy="10" rx="30" ry="8" fill="#40c040"/><ellipse cx="135" cy="3" rx="18" ry="8" fill="#e8e000"/><ellipse cx="135" cy="2" rx="12" ry="6" fill="#e00000"/>
<polygon points="130,0 200,0 200,200 140,200 135,120 150,80 140,40" fill="#1040f0"/>
<ellipse cx="160" cy="40" rx="12" ry="15" fill="#60d8ff"/>
<ellipse cx="170" cy="110" rx="38" ry="36" fill="#30c030"/><ellipse cx="171" cy="108" rx="33" ry="32" fill="#e00000"/><ellipse cx="166" cy="102" rx="20" ry="18" fill="#500000"/>
<ellipse cx="140" cy="188" rx="58" ry="32" fill="#e00000"/><ellipse cx="130" cy="188" rx="25" ry="15" fill="#400000"/>
<ellipse cx="192" cy="172" rx="10" ry="30" fill="#e8e000"/>
</g></g>
<rect width="200.3" height="199.6" fill="none" stroke="#777" stroke-width="1"/></g>

<!-- IR panel 4 -->
<g transform="translate(718,1888)"><g clip-path="url(#cp)">
<rect width="201" height="200" fill="#9a9a9a"/>
<g filter="url(#b5)">
<ellipse cx="95" cy="70" rx="40" ry="70" fill="#b6b6b6"/>
</g>
<g filter="url(#b2)">
<polygon points="0,0 60,0 55,60 45,120 60,180 30,200 0,200" fill="#1850f0"/>
<ellipse cx="25" cy="95" rx="22" ry="85" fill="#30c030"/>
<ellipse cx="45" cy="45" rx="8" ry="12" fill="#e03000"/><ellipse cx="20" cy="150" rx="10" ry="15" fill="#e05000"/><ellipse cx="30" cy="120" rx="8" ry="10" fill="#f0e000"/>
<polygon points="120,0 200,0 200,110 160,100 140,70 125,40" fill="#1040f0"/>
<ellipse cx="140" cy="40" rx="10" ry="10" fill="#00d0ff"/><ellipse cx="172" cy="40" rx="22" ry="30" fill="#40c040"/>
<ellipse cx="188" cy="20" rx="12" ry="15" fill="#e02000"/><ellipse cx="190" cy="55" rx="12" ry="10" fill="#e00000"/>
<ellipse cx="150" cy="62" rx="15" ry="12" fill="#80b0ff"/>
<polygon points="40,200 45,170 70,150 90,135 110,120 140,95 200,100 200,200" fill="#1040f0"/>
<polygon points="48,200 52,175 75,157 95,142 114,128 142,103 200,108 200,200" fill="#30c030"/>
<polygon points="55,200 58,180 80,163 100,148 118,135 145,110 200,115 200,200" fill="#ff8000"/>
<ellipse cx="122" cy="170" rx="60" ry="30" fill="#e00000"/><ellipse cx="160" cy="125" rx="35" ry="25" fill="#d00000"/>
<ellipse cx="150" cy="110" rx="15" ry="15" fill="#300000"/><ellipse cx="125" cy="165" rx="22" ry="18" fill="#400000"/><ellipse cx="55" cy="196" rx="18" ry="8" fill="#400000"/>
<ellipse cx="188" cy="150" rx="8" ry="25" fill="#60d040"/>
</g></g>
<rect width="200.3" height="199.7" fill="none" stroke="#777" stroke-width="1"/></g>

<!-- SHAP panels -->
<g transform="translate(955.7,938.3)"><g clip-path="url(#cp)"><rect width="201" height="200" fill="#fdfbfb"/>
<g filter="url(#b8)">
<ellipse cx="40" cy="50" rx="30" ry="40" fill="#ffeaea"/><ellipse cx="170" cy="160" rx="25" ry="35" fill="#eeeeff"/><ellipse cx="30" cy="150" rx="25" ry="30" fill="#f0f0ff"/>
<ellipse cx="110" cy="100" rx="40" ry="55" fill="#c8ccff" opacity="0.6"/><ellipse cx="140" cy="160" rx="30" ry="25" fill="#ffd0d0" opacity="0.6"/>
</g>
<g filter="url(#b2)">
<ellipse cx="30" cy="30" rx="18" ry="3" fill="#ffb0b0" opacity="0.5" transform="rotate(40 30 30)"/><ellipse cx="160" cy="40" rx="18" ry="3" fill="#b0b0ff" opacity="0.5" transform="rotate(-40 160 40)"/><ellipse cx="50" cy="170" rx="20" ry="3" fill="#b0b0ff" opacity="0.5" transform="rotate(50 50 170)"/><ellipse cx="165" cy="130" rx="18" ry="3" fill="#ffb0b0" opacity="0.5" transform="rotate(-30 165 130)"/>
<ellipse cx="105" cy="95" rx="7" ry="25" fill="#2030d0" opacity="0.75"/><ellipse cx="125" cy="90" rx="6" ry="22" fill="#2030d0" opacity="0.75"/><ellipse cx="90" cy="110" rx="5" ry="15" fill="#2030d0" opacity="0.55"/>
<ellipse cx="115" cy="118" rx="5" ry="20" fill="#e03030" opacity="0.45"/><ellipse cx="137" cy="125" rx="5" ry="15" fill="#e03030" opacity="0.45"/><ellipse cx="100" cy="132" rx="8" ry="12" fill="#3040e0" opacity="0.4"/><ellipse cx="80" cy="80" rx="8" ry="4" fill="#e03030" opacity="0.35"/>
</g></g><rect width="200" height="199.4" fill="none" stroke="#777" stroke-width="1"/></g>

<g transform="translate(955.7,1175.7)"><g clip-path="url(#cp)"><rect width="201" height="200" fill="#fdfbfb"/>
<g filter="url(#b8)">
<ellipse cx="40" cy="50" rx="30" ry="30" fill="#ffeeee"/><ellipse cx="100" cy="85" rx="45" ry="45" fill="#ffd4d4" opacity="0.6"/>
</g>
<g filter="url(#b2)">
<ellipse cx="40" cy="40" rx="18" ry="3" fill="#ffb0b0" opacity="0.5" transform="rotate(40 40 40)"/><ellipse cx="150" cy="150" rx="18" ry="3" fill="#b0b0ff" opacity="0.5" transform="rotate(50 150 150)"/>
<ellipse cx="105" cy="82" rx="6" ry="8" fill="#e03030" opacity="0.45"/><ellipse cx="85" cy="95" rx="10" ry="4" fill="#e03030" opacity="0.3"/><ellipse cx="120" cy="110" rx="5" ry="8" fill="#e03030" opacity="0.35"/>
<ellipse cx="110" cy="170" rx="4" ry="18" fill="#3040e0" opacity="0.35"/><ellipse cx="60" cy="120" rx="8" ry="8" fill="#3040e0" opacity="0.2"/>
</g></g><rect width="200" height="199.3" fill="none" stroke="#777" stroke-width="1"/></g>

<g transform="translate(955.7,1412.7)"><g clip-path="url(#cp)"><rect width="201" height="200" fill="#fdfbfb"/>
<g filter="url(#b8)">
<ellipse cx="120" cy="100" rx="50" ry="55" fill="#e0d8f8" opacity="0.6"/>
</g>
<g filter="url(#b2)">
<ellipse cx="40" cy="60" rx="18" ry="3" fill="#ffb0b0" opacity="0.5" transform="rotate(30 40 60)"/><ellipse cx="160" cy="170" rx="18" ry="3" fill="#b0b0ff" opacity="0.5" transform="rotate(-40 160 170)"/>
<ellipse cx="120" cy="95" rx="7" ry="15" fill="#3040e0" opacity="0.55"/><ellipse cx="105" cy="112" rx="5" ry="12" fill="#3040e0" opacity="0.45"/>
<ellipse cx="155" cy="95" rx="10" ry="6" fill="#e03030" opacity="0.55"/><ellipse cx="95" cy="122" rx="6" ry="10" fill="#e03030" opacity="0.4"/><ellipse cx="70" cy="60" rx="10" ry="5" fill="#e03030" opacity="0.3"/>
<ellipse cx="135" cy="115" rx="5" ry="12" fill="#3040e0" opacity="0.4"/>
</g></g><rect width="200" height="200" fill="none" stroke="#777" stroke-width="1"/></g>

<g transform="translate(955.7,1650.7)"><g clip-path="url(#cp)"><rect width="201" height="200" fill="#fdfbfb"/>
<g filter="url(#b8)">
<ellipse cx="110" cy="140" rx="45" ry="55" fill="#ffd0d0" opacity="0.6"/><ellipse cx="50" cy="40" rx="25" ry="25" fill="#ffe8e8"/>
</g>
<g filter="url(#b2)">
<ellipse cx="50" cy="50" rx="20" ry="3" fill="#b0b0ff" opacity="0.5" transform="rotate(45 50 50)"/><ellipse cx="170" cy="60" rx="18" ry="3" fill="#ffb0b0" opacity="0.5" transform="rotate(-30 170 60)"/>
<ellipse cx="100" cy="150" rx="8" ry="20" fill="#e03030" opacity="0.5"/><ellipse cx="120" cy="130" rx="5" ry="25" fill="#3040e0" opacity="0.5"/><ellipse cx="80" cy="170" rx="6" ry="12" fill="#e03030" opacity="0.45"/>
<ellipse cx="140" cy="150" rx="5" ry="15" fill="#3040e0" opacity="0.4"/><ellipse cx="55" cy="45" rx="6" ry="10" fill="#3040e0" opacity="0.25"/>
</g></g><rect width="200" height="199.6" fill="none" stroke="#777" stroke-width="1"/></g>

<g transform="translate(955.7,1888)"><g clip-path="url(#cp)"><rect width="201" height="200" fill="#fdfbfb"/>
<g filter="url(#b8)">
<ellipse cx="30" cy="140" rx="25" ry="40" fill="#ffe4e4"/><ellipse cx="170" cy="170" rx="25" ry="25" fill="#ececff"/>
<ellipse cx="105" cy="110" rx="50" ry="55" fill="#c4c4ff" opacity="0.6"/>
</g>
<g filter="url(#b2)">
<ellipse cx="105" cy="100" rx="22" ry="32" fill="#3040e0" opacity="0.35"/>
<ellipse cx="110" cy="110" rx="7" ry="25" fill="#0000c0" opacity="0.6"/><ellipse cx="95" cy="95" rx="5" ry="15" fill="#e02020" opacity="0.6"/><ellipse cx="88" cy="118" rx="10" ry="5" fill="#e02020" opacity="0.55"/>
<ellipse cx="80" cy="132" rx="5" ry="10" fill="#e02020" opacity="0.45"/><ellipse cx="128" cy="80" rx="5" ry="8" fill="#e02020" opacity="0.5"/><ellipse cx="75" cy="90" rx="6" ry="12" fill="#3040e0" opacity="0.45"/>
<ellipse cx="130" cy="125" rx="5" ry="14" fill="#2030d0" opacity="0.5"/>
</g></g><rect width="200" height="199.7" fill="none" stroke="#777" stroke-width="1"/></g>

<!-- ticks for right panels -->
<g stroke="#333" stroke-width="0.8">
<path d="M714.5 959.3H718M714.5 991H718M714.5 1022.3H718M714.5 1053.7H718M714.5 1085H718M714.5 1116.3H718"/>
<path d="M952.2 959.3H955.7M952.2 991H955.7M952.2 1022.3H955.7M952.2 1053.7H955.7M952.2 1085H955.7M952.2 1116.3H955.7"/>
<path d="M737.3 1137.7V1141.2M767.4 1137.7V1141.2M797.4 1137.7V1141.2M827.5 1137.7V1141.2M857.6 1137.7V1141.2M887.7 1137.7V1141.2M917.7 1137.7V1141.2"/>
<path d="M975 1137.7V1141.2M1005.1 1137.7V1141.2M1035.1 1137.7V1141.2M1065.2 1137.7V1141.2M1095.3 1137.7V1141.2M1125.4 1137.7V1141.2M1155.4 1137.7V1141.2"/>
<path d="M714.5 1197.3H718M714.5 1228.7H718M714.5 1260H718M714.5 1291.3H718M714.5 1322.7H718M714.5 1354.3H718"/>
<path d="M952.2 1197.3H955.7M952.2 1228.7H955.7M952.2 1260H955.7M952.2 1291.3H955.7M952.2 1322.7H955.7M952.2 1354.3H955.7"/>
<path d="M737.3 1375V1378.5M767.4 1375V1378.5M797.4 1375V1378.5M827.5 1375V1378.5M857.6 1375V1378.5M887.7 1375V1378.5M917.7 1375V1378.5"/>
<path d="M975 1375V1378.5M1005.1 1375V1378.5M1035.1 1375V1378.5M1065.2 1375V1378.5M1095.3 1375V1378.5M1125.4 1375V1378.5M1155.4 1375V1378.5"/>
<path d="M714.5 1430H718M714.5 1461.3H718M714.5 1492.7H718M714.5 1524H718M714.5 1555.3H718M714.5 1586.7H718"/>
<path d="M952.2 1430H955.7M952.2 1461.3H955.7M952.2 1492.7H955.7M952.2 1524H955.7M952.2 1555.3H955.7M952.2 1586.7H955.7"/>
<path d="M734.3 1612.7V1616.2M764.4 1612.7V1616.2M794.5 1612.7V1616.2M824.6 1612.7V1616.2M854.7 1612.7V1616.2M884.8 1612.7V1616.2M915 1612.7V1616.2"/>
<path d="M972 1612.7V1616.2M1002.1 1612.7V1616.2M1032.2 1612.7V1616.2M1062.3 1612.7V1616.2M1092.4 1612.7V1616.2M1122.5 1612.7V1616.2M1152.7 1612.7V1616.2"/>
<path d="M714.5 1670H718M714.5 1701.7H718M714.5 1733.3H718M714.5 1764.7H718M714.5 1796H718M714.5 1827.3H718"/>
<path d="M952.2 1670H955.7M952.2 1701.7H955.7M952.2 1733.3H955.7M952.2 1764.7H955.7M952.2 1796H955.7M952.2 1827.3H955.7"/>
<path d="M745 1850.3V1853.8M775.1 1850.3V1853.8M805.2 1850.3V1853.8M835.3 1850.3V1853.8M865.4 1850.3V1853.8M895.5 1850.3V1853.8"/>
<path d="M982.7 1850.3V1853.8M1012.8 1850.3V1853.8M1042.9 1850.3V1853.8M1073 1850.3V1853.8M1103.1 1850.3V1853.8M1133.2 1850.3V1853.8"/>
<path d="M714.5 1912.7H718M714.5 1944H718M714.5 1975.3H718M714.5 2007H718M714.5 2038.3H718M714.5 2069.3H718"/>
<path d="M952.2 1912.7H955.7M952.2 1944H955.7M952.2 1975.3H955.7M952.2 2007H955.7M952.2 2038.3H955.7M952.2 2069.3H955.7"/>
<path d="M726.7 2087.7V2091.2M757 2087.7V2091.2M787.3 2087.7V2091.2M817.7 2087.7V2091.2M848 2087.7V2091.2M878.3 2087.7V2091.2M908.7 2087.7V2091.2"/>
<path d="M964.4 2087.7V2091.2M994.7 2087.7V2091.2M1025 2087.7V2091.2M1055.4 2087.7V2091.2M1085.7 2087.7V2091.2M1116 2087.7V2091.2M1146.4 2087.7V2091.2"/>
</g>
<g font-size="9.5" text-anchor="end" class="lt">
<text x="712.7" y="962.7">19</text><text x="712.7" y="994.4">18</text><text x="712.7" y="1025.7">17</text><text x="712.7" y="1057.1">16</text><text x="712.7" y="1088.4">15</text><text x="712.7" y="1119.7">14</text>
<text x="712.7" y="1200.7">19</text><text x="712.7" y="1232.1">18</text><text x="712.7" y="1263.4">17</text><text x="712.7" y="1294.7">16</text><text x="712.7" y="1326.1">15</text><text x="712.7" y="1357.7">14</text>
<text x="712.7" y="1433.4">19</text><text x="712.7" y="1464.7">18</text><text x="712.7" y="1496.1">17</text><text x="712.7" y="1527.4">16</text><text x="712.7" y="1558.7">15</text><text x="712.7" y="1590.1">14</text>
<text x="712.7" y="1673.4">18</text><text x="712.7" y="1705.1">17</text><text x="712.7" y="1736.7">16</text><text x="712.7" y="1768.1">15</text><text x="712.7" y="1799.4">14</text><text x="712.7" y="1830.7">13</text>
<text x="712.7" y="1916.1">17</text><text x="712.7" y="1947.4">16</text><text x="712.7" y="1978.7">15</text><text x="712.7" y="2010.4">14</text><text x="712.7" y="2041.7">13</text><text x="712.7" y="2072.7">12</text>
</g>
<g font-size="9.5" text-anchor="middle" class="lt">
<text x="737.3" y="1150.5">−49</text><text x="767.4" y="1150.5">−48</text><text x="797.4" y="1150.5">−47</text><text x="827.5" y="1150.5">−46</text><text x="857.6" y="1150.5">−45</text><text x="887.7" y="1150.5">−44</text><text x="917.7" y="1150.5">−43</text>
<text x="737.3" y="1388">−49</text><text x="767.4" y="1388">−48</text><text x="797.4" y="1388">−47</text><text x="827.5" y="1388">−46</text><text x="857.6" y="1388">−45</text><text x="887.7" y="1388">−44</text><text x="917.7" y="1388">−43</text>
<text x="734.3" y="1625.5">−49</text><text x="764.4" y="1625.5">−48</text><text x="794.5" y="1625.5">−47</text><text x="824.6" y="1625.5">−46</text><text x="854.7" y="1625.5">−45</text><text x="884.8" y="1625.5">−44</text><text x="915" y="1625.5">−43</text>
<text x="745" y="1863">−48</text><text x="775.1" y="1863">−47</text><text x="805.2" y="1863">−46</text><text x="835.3" y="1863">−45</text><text x="865.4" y="1863">−44</text><text x="895.5" y="1863">−43</text>
<text x="726.7" y="2100.5">−48</text><text x="757" y="2100.5">−47</text><text x="787.3" y="2100.5">−46</text><text x="817.7" y="2100.5">−45</text><text x="848" y="2100.5">−44</text><text x="878.3" y="2100.5">−43</text><text x="908.7" y="2100.5">−42</text>
</g>

<!-- right colorbars -->
<text x="817.7" y="2122" font-size="9.3" text-anchor="middle" textLength="133" lengthAdjust="spacingAndGlyphs" class="lt">Brightness Temperature [K]</text>
<rect x="718" y="2125.7" width="200.3" height="12.3" fill="url(#gbt)" stroke="#333" stroke-width="0.7"/>
<g stroke="#333" stroke-width="0.6">
<path d="M717.7 2138V2140.5M748.5 2138V2140.5M779.3 2138V2140.5M810.1 2138V2140.5M840.9 2138V2140.5M871.7 2138V2140.5M902.5 2138V2140.5"/>
</g>
<g font-size="6.3" text-anchor="middle" class="lt">
<text x="717.7" y="2148.5">180</text><text x="748.5" y="2148.5">200</text><text x="779.3" y="2148.5">220</text><text x="810.1" y="2148.5">240</text><text x="840.9" y="2148.5">260</text><text x="871.7" y="2148.5">280</text><text x="902.5" y="2148.5">300</text>
</g>
<text x="1055.7" y="2122" font-size="9.3" text-anchor="middle" class="lt">SHAP Values</text>
<rect x="955.7" y="2125.7" width="200" height="12.3" fill="url(#gsei)" stroke="#333" stroke-width="0.7"/>
<g stroke="#333" stroke-width="0.6">
<path d="M977.3 2138V2140.5M1016.3 2138V2140.5M1055.3 2138V2140.5M1094.3 2138V2140.5M1133.3 2138V2140.5"/>
</g>
<g font-size="9.3" text-anchor="middle" class="lt">
<text x="977.3" y="2151">−0.04</text><text x="1016.3" y="2151">−0.02</text><text x="1055.3" y="2151">0.00</text><text x="1094.3" y="2151">0.02</text><text x="1133.3" y="2151">0.04</text>
</g>
</svg>
</body></html>
